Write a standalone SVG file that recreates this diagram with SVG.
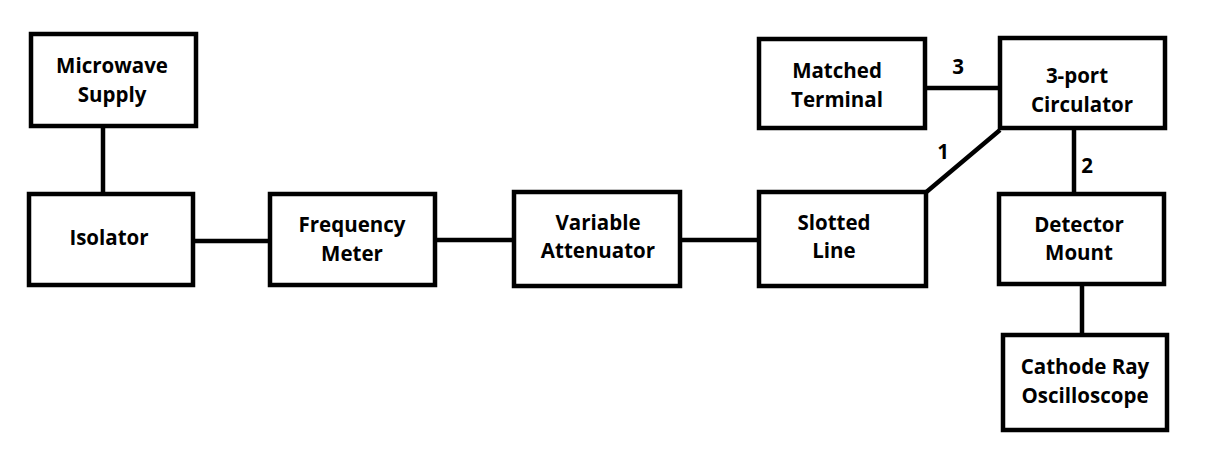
<svg xmlns="http://www.w3.org/2000/svg" width="1207" height="456" viewBox="0 0 1207 456">
<style>
.box{fill:#fff;stroke:#000;stroke-width:4.5}
.t{font-family:"Open Sans","Liberation Sans",sans-serif;font-weight:bold;font-size:20.5px;fill:#000;text-anchor:middle}
.c{stroke:#000;stroke-width:4.5;fill:none}
</style>
<rect width="1207" height="456" fill="#fff"/>
<g id="connectors">
<line class="c" x1="103" y1="128" x2="103" y2="193"/>
<line class="c" x1="195" y1="241" x2="272" y2="241"/>
<line class="c" x1="437" y1="240" x2="513" y2="240"/>
<line class="c" x1="681" y1="240" x2="758" y2="240"/>
<line class="c" x1="924" y1="194" x2="1000" y2="130"/>
<line class="c" x1="927" y1="88" x2="999" y2="88"/>
<line class="c" x1="1074" y1="129" x2="1074" y2="193"/>
<line class="c" x1="1082" y1="284" x2="1082" y2="334"/>
<text class="t" x="958" y="74">3</text>
<text class="t" x="943" y="159">1</text>
<text class="t" x="1087" y="173">2</text>
</g>
<g id="microwave-supply"><rect class="box" x="31" y="34" width="165" height="92"/><text class="t" x="112" y="73">Microwave</text><text class="t" x="112" y="102">Supply</text></g>
<g id="isolator"><rect class="box" x="29" y="194" width="164" height="91"/><text class="t" x="109" y="245">Isolator</text></g>
<g id="frequency-meter"><rect class="box" x="270" y="194" width="165" height="91"/><text class="t" x="352" y="232">Frequency</text><text class="t" x="352" y="261">Meter</text></g>
<g id="variable-attenuator"><rect class="box" x="514" y="192" width="166" height="94"/><text class="t" x="598" y="230">Variable</text><text class="t" x="598" y="258">Attenuator</text></g>
<g id="slotted-line"><rect class="box" x="759" y="192" width="167" height="94"/><text class="t" x="834" y="230">Slotted</text><text class="t" x="834" y="258">Line</text></g>
<g id="matched-terminal"><rect class="box" x="759" y="39" width="166" height="89"/><text class="t" x="837" y="78">Matched</text><text class="t" x="837" y="107">Terminal</text></g>
<g id="circulator"><rect class="box" x="1000" y="38" width="165" height="90"/><text class="t" x="1077" y="83">3-port</text><text class="t" x="1082" y="112">Circulator</text></g>
<g id="detector-mount"><rect class="box" x="999" y="194" width="165" height="90"/><text class="t" x="1079" y="232">Detector</text><text class="t" x="1079" y="260">Mount</text></g>
<g id="cro"><rect class="box" x="1003" y="335" width="164" height="95"/><text class="t" x="1085" y="374">Cathode Ray</text><text class="t" x="1085" y="403">Oscilloscope</text></g>
</svg>
